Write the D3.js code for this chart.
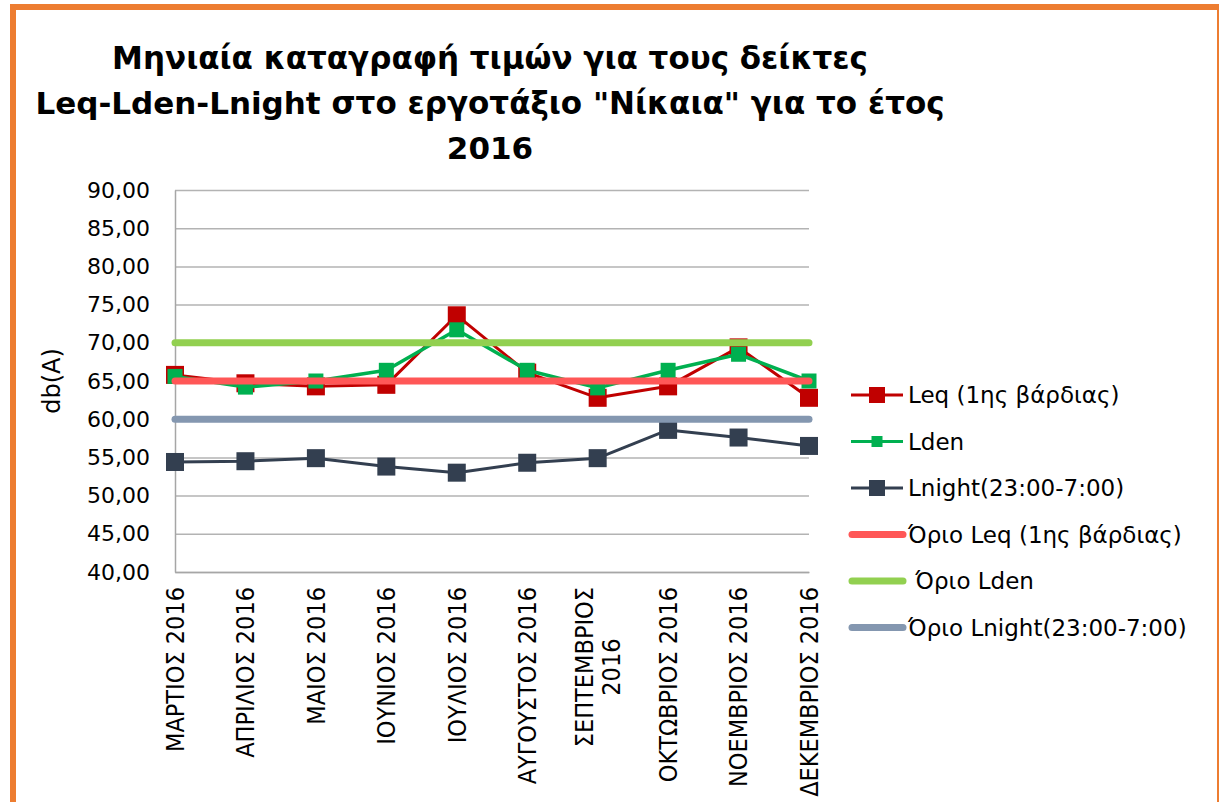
<!DOCTYPE html>
<html>
<head>
<meta charset="utf-8">
<script src="https://cdn.jsdelivr.net/npm/d3@7"></script>
<style>
body{margin:0;background:#fff;}
svg{display:block;font-family:"DejaVu Sans",sans-serif;}
</style>
</head>
<body>
<svg></svg>
<script>
var width=1220;
var height=802;

// data
var months=["ΜΑΡΤΙΟΣ 2016","ΑΠΡΙΛΙΟΣ 2016","ΜΑΙΟΣ 2016","ΙΟΥΝΙΟΣ 2016","ΙΟΥΛΙΟΣ 2016","ΑΥΓΟΥΣΤΟΣ 2016","ΣΕΠΤΕΜΒΡΙΟΣ\n2016","ΟΚΤΩΒΡΙΟΣ 2016","ΝΟΕΜΒΡΙΟΣ 2016","ΔΕΚΕΜΒΡΙΟΣ 2016"];
var leq=[65.8,64.7,64.3,64.5,73.6,66.1,62.8,64.3,69.4,62.8];
var lden=[65.6,64.2,65.0,66.4,71.7,66.4,64.1,66.4,68.5,65.0];
var lnight=[54.4,54.5,54.9,53.8,53.0,54.3,54.9,58.6,57.6,56.5];
var limitLeq=65;
var limitLden=70;
var limitLnight=60;
var yTicks=[40,45,50,55,60,65,70,75,80,85,90];
var seriesNames=["Leq (1ης βάρδιας)","Lden","Lnight(23:00-7:00)","Όριο Leq (1ης βάρδιας)"," Όριο Lden","Όριο Lnight(23:00-7:00)"];

var pLeft=175, pRight=809, pTop=190, pBottom=572;

var svg=d3.select("svg")
	.attr("width",width)
	.attr("height",height);

svg.append("rect").attr("width",width).attr("height",height).attr("fill","#fff");

// orange frame
svg.append("line").attr("x1",10).attr("x2",1219).attr("y1",7).attr("y2",7)
	.attr("stroke","#ED7D31").attr("stroke-width",6);
svg.append("line").attr("x1",13).attr("x2",13).attr("y1",4).attr("y2",802)
	.attr("stroke","#ED7D31").attr("stroke-width",6);
svg.append("line").attr("x1",1218).attr("x2",1218).attr("y1",4).attr("y2",802)
	.attr("stroke","#ED7D31").attr("stroke-width",2);

var x=d3.scalePoint().domain(months).range([pLeft,pRight]);
var y=d3.scaleLinear().domain([40,90]).range([pBottom,pTop]);

// gridlines
svg.append("g")
	.attr("transform","translate("+pLeft+",0)")
	.call(d3.axisLeft(y).tickValues(yTicks).tickSize(-(pRight-pLeft)).tickFormat(""))
	.call(g=>g.select(".domain").remove())
	.call(g=>g.selectAll("line").attr("stroke","#b3b3b3").attr("stroke-width",1.5));

// y axis
svg.append("g")
	.attr("transform","translate("+pLeft+",0)")
	.call(d3.axisLeft(y).tickValues(yTicks).tickSize(0).tickPadding(25)
		.tickFormat(d=>d3.format(".2f")(d).replace(".",",")))
	.call(g=>g.select(".domain").attr("stroke","#a6a6a6").attr("stroke-width",1.5))
	.call(g=>g.selectAll("text").attr("font-size",22).attr("fill","#000")
		.style("font-family","'DejaVu Sans',sans-serif"));

// x axis
svg.append("g")
	.attr("transform","translate(0,"+pBottom+")")
	.call(d3.axisBottom(x).tickSize(0).tickFormat(""))
	.call(g=>g.select(".domain").attr("stroke","#a6a6a6").attr("stroke-width",1.5));

months.forEach(function(m){
	var lines=m.split("\n");
	var t=svg.append("text")
		.attr("font-size",25)
		.attr("fill","#000")
		.style("font-family","'DejaVu Sans Condensed','DejaVu Sans',sans-serif");
	lines.forEach(function(l){
		t.append("tspan").text(l);
	});
	var longest=0;
	t.selectAll("tspan").each(function(){longest=Math.max(longest,this.getComputedTextLength());});
	t.attr("transform","translate("+x(m)+","+(pBottom+15+longest/2)+") rotate(-90)")
		.attr("text-anchor","middle");
	var n=lines.length;
	t.selectAll("tspan")
		.attr("x",0)
		.attr("y",(d,i)=>(i-(n-1)/2)*27)
		.attr("dy","0.35em");
});

// y axis title
svg.append("text")
	.attr("transform","translate(52,"+y(65)+") rotate(-90)")
	.attr("text-anchor","middle")
	.attr("dy","0.35em")
	.attr("font-size",24)
	.text("db(A)");

// title
var titleLines=["Μηνιαία καταγραφή τιμών για τους δείκτες","Leq-Lden-Lnight στο εργοτάξιο \"Νίκαια\" για το έτος","2016"];
svg.append("g").selectAll("text")
	.data(titleLines)
	.enter()
	.append("text")
	.attr("x",490)
	.attr("y",(d,i)=>69+i*45)
	.attr("text-anchor","middle")
	.attr("font-size",31)
	.attr("font-weight","bold")
	.text(d=>d);

var line=d3.line().x((d,i)=>x(months[i])).y(d=>y(d));

function drawSeries(arr,color,size,lw){
	svg.append("path")
		.datum(arr)
		.attr("d",line)
		.attr("fill","none")
		.attr("stroke",color)
		.attr("stroke-width",lw)
		.attr("stroke-linejoin","round");
	svg.append("g").selectAll("rect")
		.data(arr)
		.enter()
		.append("rect")
		.attr("x",(d,i)=>x(months[i])-size/2)
		.attr("y",d=>y(d)-size/2)
		.attr("width",size)
		.attr("height",size)
		.attr("fill",color);
}

drawSeries(leq,"#C00000",18,3);
drawSeries(lden,"#00B050",15,3.5);
drawSeries(lnight,"#333F50",18,3);

function drawLimit(v,color){
	svg.append("line")
		.attr("x1",pLeft).attr("x2",pRight)
		.attr("y1",y(v)).attr("y2",y(v))
		.attr("stroke",color)
		.attr("stroke-width",7)
		.attr("stroke-linecap","round");
}
drawLimit(limitLeq,"#FF5757");
drawLimit(limitLden,"#92D050");
drawLimit(limitLnight,"#8497B0");

// legend
var legColors=["#C00000","#00B050","#333F50","#FF5757","#92D050","#8497B0"];
var legMarker=[16,11,16,0,0,0];
var leg=svg.append("g");
seriesNames.forEach(function(name,i){
	var ly=395+i*46.5;
	var g=leg.append("g").attr("transform","translate(0,"+ly+")");
	if(legMarker[i]>0){
		g.append("line").attr("x1",851).attr("x2",903).attr("y1",0).attr("y2",0)
			.attr("stroke",legColors[i]).attr("stroke-width",3);
		g.append("rect").attr("x",877-legMarker[i]/2).attr("y",-legMarker[i]/2)
			.attr("width",legMarker[i]).attr("height",legMarker[i]).attr("fill",legColors[i]);
	} else {
		g.append("line").attr("x1",852).attr("x2",903).attr("y1",0).attr("y2",0)
			.attr("stroke",legColors[i]).attr("stroke-width",7).attr("stroke-linecap","round");
	}
	g.append("text").attr("x",908).attr("y",0).attr("dy","0.35em")
		.attr("font-size",23).attr("fill","#000")
		.style("white-space","pre")
		.text(name);
});
</script>
</body>
</html>
